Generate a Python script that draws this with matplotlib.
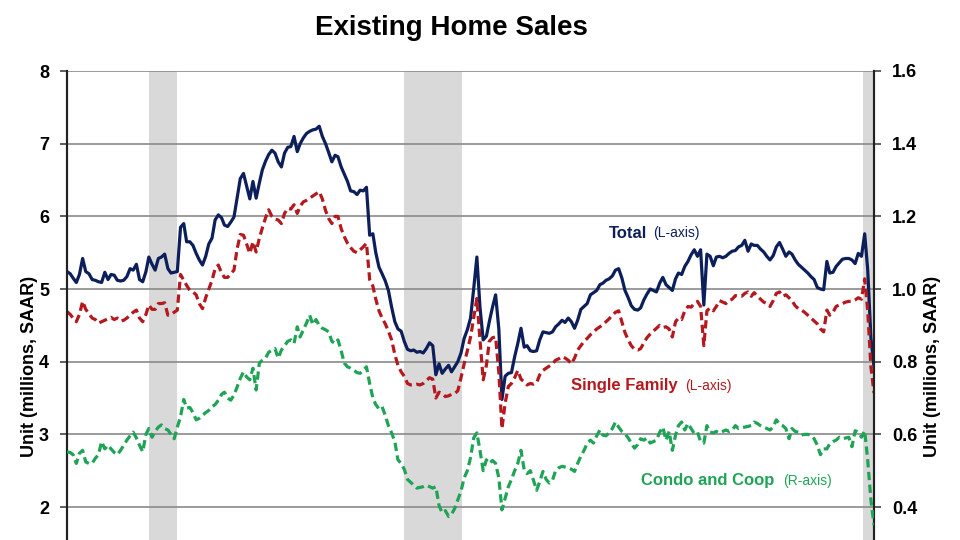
import numpy as np
import pandas as pd
import matplotlib
matplotlib.use('Agg')
import matplotlib.pyplot as plt

plt.rcParams['font.family'] = ['Liberation Sans', 'DejaVu Sans']

# monthly, Jan 1999 - May 2020, millions SAAR
months = pd.date_range('1999-01-01', '2020-05-01', freq='MS')

total = [
    5.24, 5.21, 5.15, 5.09, 5.20, 5.42, 5.24, 5.21, 5.13, 5.12, 5.10, 5.09,
    5.23, 5.13, 5.20, 5.19, 5.12, 5.11, 5.12, 5.17, 5.28, 5.26, 5.34, 5.13,
    5.10, 5.24, 5.44, 5.34, 5.26, 5.42, 5.44, 5.48, 5.28, 5.22, 5.23, 5.24,
    5.85, 5.90, 5.65, 5.65, 5.60, 5.49, 5.40, 5.33, 5.45, 5.62, 5.70, 5.95,
    6.02, 5.98, 5.88, 5.86, 5.92, 5.99, 6.25, 6.52, 6.59, 6.42, 6.24, 6.48,
    6.25, 6.46, 6.64, 6.76, 6.85, 6.91, 6.87, 6.75, 6.68, 6.87, 6.95, 6.96,
    7.10, 6.89, 7.00, 7.08, 7.14, 7.17, 7.19, 7.20, 7.24, 7.10, 7.00, 6.88,
    6.75, 6.84, 6.82, 6.68, 6.58, 6.48, 6.35, 6.34, 6.30, 6.36, 6.35, 6.40,
    5.74, 5.76, 5.50, 5.30, 5.21, 5.11, 4.98, 4.75, 4.55, 4.45, 4.42, 4.28,
    4.17, 4.15, 4.16, 4.13, 4.14, 4.12, 4.18, 4.26, 4.22, 3.82, 3.97, 3.84,
    3.90, 3.95, 3.86, 3.93, 4.00, 4.12, 4.32, 4.44, 4.60, 5.00, 5.44, 4.75,
    4.30, 4.35, 4.55, 4.75, 4.92, 4.45, 3.48, 3.80, 3.84, 3.85, 4.07, 4.25,
    4.46, 4.20, 4.22, 4.15, 4.14, 4.15, 4.30, 4.41, 4.40, 4.39, 4.41, 4.48,
    4.52, 4.57, 4.54, 4.60, 4.55, 4.46, 4.57, 4.72, 4.76, 4.80, 4.92, 4.95,
    4.98, 5.06, 5.08, 5.12, 5.14, 5.18, 5.26, 5.28, 5.15, 4.98, 4.88, 4.77,
    4.72, 4.71, 4.74, 4.85, 4.93, 5.00, 4.98, 4.96, 5.08, 5.16, 5.06, 5.02,
    4.98, 5.14, 5.22, 5.20, 5.31, 5.38, 5.47, 5.54, 5.45, 5.54, 4.78, 5.48,
    5.45, 5.32, 5.44, 5.45, 5.43, 5.45, 5.49, 5.52, 5.53, 5.58, 5.60, 5.67,
    5.52, 5.62, 5.60, 5.60, 5.55, 5.51, 5.45, 5.40, 5.46, 5.58, 5.64, 5.55,
    5.45, 5.51, 5.48, 5.40, 5.34, 5.30, 5.26, 5.22, 5.17, 5.13, 5.02, 5.00,
    4.99, 5.38, 5.22, 5.23, 5.31, 5.36, 5.41, 5.42, 5.42, 5.40, 5.35, 5.49,
    5.45, 5.76, 5.27, 4.33, 3.93,
]

single_family = [
    4.69, 4.65, 4.60, 4.55, 4.65, 4.83, 4.72, 4.66, 4.60, 4.58, 4.53, 4.55,
    4.57, 4.59, 4.61, 4.58, 4.60, 4.56, 4.57, 4.60, 4.64, 4.68, 4.71, 4.60,
    4.55, 4.65, 4.78, 4.72, 4.72, 4.80, 4.80, 4.81, 4.64, 4.65, 4.68, 4.71,
    5.20, 5.12, 5.05, 4.98, 4.96, 4.92, 4.80, 4.73, 4.88, 5.00, 5.12, 5.28,
    5.33, 5.22, 5.16, 5.16, 5.21, 5.26, 5.55, 5.75, 5.74, 5.62, 5.49, 5.65,
    5.51, 5.70, 5.84, 5.98, 6.09, 6.00, 5.96, 5.95, 5.90, 6.04, 6.11, 6.10,
    6.16, 6.04, 6.14, 6.20, 6.22, 6.25, 6.28, 6.31, 6.34, 6.24, 6.08, 5.97,
    5.90, 6.00, 6.00, 5.83, 5.72, 5.63, 5.57, 5.52, 5.50, 5.54, 5.58, 5.63,
    5.13, 5.04, 4.86, 4.70, 4.60, 4.52, 4.42, 4.30, 4.10, 3.95, 3.86, 3.80,
    3.70, 3.68, 3.68, 3.69, 3.68, 3.70, 3.74, 3.78, 3.76, 3.50, 3.58, 3.56,
    3.52, 3.53, 3.55, 3.56, 3.60, 3.78, 3.97, 4.15, 4.34, 4.60, 4.87, 4.30,
    3.75, 3.95, 4.28, 4.33, 4.34, 3.85, 3.08, 3.43, 3.66, 3.70, 3.78, 3.88,
    3.76, 3.72, 3.68, 3.70, 3.69, 3.71, 3.82, 3.88, 3.91, 3.94, 3.97, 4.02,
    4.04, 4.07, 4.05, 4.02, 3.97, 4.05, 4.16, 4.22, 4.28, 4.32, 4.37, 4.41,
    4.45, 4.48, 4.51, 4.55, 4.59, 4.64, 4.68, 4.70, 4.55, 4.40, 4.30, 4.22,
    4.17, 4.16, 4.18, 4.26, 4.33, 4.38, 4.42, 4.46, 4.50, 4.47, 4.48, 4.45,
    4.34, 4.55, 4.60, 4.58, 4.70, 4.76, 4.75, 4.80, 4.83, 4.76, 4.22, 4.70,
    4.74, 4.70, 4.76, 4.84, 4.82, 4.80, 4.84, 4.86, 4.91, 4.90, 4.90, 4.94,
    4.96, 4.90, 4.95, 4.90, 4.86, 4.82, 4.80, 4.76, 4.84, 4.94, 4.96, 4.90,
    4.92, 4.88, 4.84, 4.77, 4.73, 4.71, 4.68, 4.64, 4.60, 4.56, 4.52, 4.45,
    4.41, 4.71, 4.64, 4.68, 4.76, 4.78, 4.80, 4.82, 4.83, 4.83, 4.85, 4.88,
    4.86, 5.14, 4.71, 3.93, 3.57,
]

condo = [
    .552, .550, .544, .520, .548, .556, .524, .520, .520, .534, .544, .580,
    .560, .570, .560, .550, .544, .556, .570, .584, .596, .606, .590, .570,
    .552, .600, .616, .592, .608, .620, .626, .616, .612, .600, .588, .620,
    .648, .696, .672, .674, .660, .640, .644, .652, .660, .666, .676, .682,
    .694, .710, .716, .700, .694, .708, .730, .754, .772, .758, .750, .782,
    .722, .796, .804, .810, .826, .832, .836, .810, .832, .844, .856, .860,
    .850, .896, .868, .888, .906, .928, .902, .916, .900, .892, .888, .882,
    .856, .850, .860, .830, .796, .786, .782, .776, .770, .768, .776, .786,
    .740, .700, .682, .670, .676, .652, .624, .604, .580, .530, .520, .504,
    .476, .468, .460, .452, .454, .456, .460, .456, .452, .456, .404, .384,
    .390, .374, .380, .396, .420, .444, .480, .500, .536, .590, .604, .556,
    .500, .530, .520, .528, .520, .480, .392, .424, .456, .476, .500, .520,
    .556, .502, .492, .500, .474, .446, .470, .498, .476, .466, .474, .500,
    .508, .512, .510, .508, .504, .498, .520, .540, .556, .576, .584, .576,
    .596, .612, .598, .596, .604, .616, .634, .620, .608, .602, .590, .576,
    .562, .572, .588, .584, .590, .576, .580, .584, .606, .620, .584, .608,
    .556, .598, .624, .634, .612, .630, .616, .602, .606, .580, .576, .624,
    .606, .604, .608, .604, .608, .612, .608, .612, .624, .616, .618, .620,
    .622, .624, .634, .630, .624, .620, .616, .612, .620, .640, .628, .624,
    .616, .588, .616, .608, .606, .598, .600, .600, .598, .588, .570, .544,
    .560, .560, .574, .580, .584, .592, .588, .590, .592, .566, .610, .606,
    .592, .610, .530, .420, .350,
]

recessions = [('2001-03-01', '2001-12-01'),
              ('2007-12-01', '2009-06-10'),
              ('2020-01-16', '2020-06-01')]

navy = '#0c1f5b'
red = '#b3191e'
green = '#1fa456'

fig = plt.figure(figsize=(9.6, 5.4), dpi=100)
ax = fig.add_axes([67/960, 0, 807/960, 469/540])
ax2 = ax.twinx()

for start, end in recessions:
    ax.axvspan(pd.Timestamp(start), pd.Timestamp(end), color='#d9d9d9', lw=0, zorder=0.1)

ax.plot(months, total, color=navy, lw=2.3, zorder=3)
ax.plot(months, single_family, color=red, lw=2.3, dashes=(2.6, 1.4), zorder=3)
ax2.plot(months, condo, color=green, lw=2.3, dashes=(2.6, 1.4), zorder=3)

ax.set_xlim(months[0], months[-1])
ax.set_ylim(8 - 469/72.67, 8)
ax2.set_ylim((8 - 469/72.67) * 0.2, 1.6)
ax.set_yticks(range(2, 9))
ax2.set_yticks([0.4, 0.6, 0.8, 1.0, 1.2, 1.4, 1.6])
ax2.set_yticklabels(['0.4', '0.6', '0.8', '1.0', '1.2', '1.4', '1.6'])
ax.set_xticks([])

ax.set_axisbelow(True)
ax.grid(axis='y', color='#8a8a8a', lw=1.2)
for a in (ax, ax2):
    a.spines['top'].set_visible(False)
    a.spines['bottom'].set_visible(False)
    a.spines['left'].set_color('#222222')
    a.spines['right'].set_color('#222222')
    a.spines['left'].set_linewidth(1.5)
    a.spines['right'].set_linewidth(1.5)
    a.tick_params(axis='y', length=5, width=1.2, pad=8, labelsize=13, color='#444444')
    for lab in a.get_yticklabels():
        lab.set_fontweight('bold')

ax.set_ylabel('Unit (millions, SAAR)', fontsize=13, fontweight='bold')
ax2.set_ylabel('Unit (millions, SAAR)', fontsize=13, fontweight='bold')
ax.yaxis.set_label_coords(-0.036, 0.371)
ax2.yaxis.set_label_coords(1.062, 0.371)

fig.text(451/960, 1 - 28/540, 'Existing Home Sales', ha='center', va='center',
         fontsize=20, fontweight='bold')

# series labels
ax.text(months[172], 5.77, 'Total', color=navy, fontsize=12, fontweight='bold', va='center')
ax.text(months[186], 5.77, '(L-axis)', color=navy, fontsize=10, va='center')
ax.text(months[160], 3.67, 'Single Family', color=red, fontsize=12, fontweight='bold', va='center')
ax.text(months[196], 3.67, '(L-axis)', color=red, fontsize=10, va='center')
ax.text(months[182], 2.36, 'Condo and Coop', color=green, fontsize=12, fontweight='bold', va='center')
ax.text(months[227], 2.36, '(R-axis)', color=green, fontsize=10, va='center')

fig.savefig('out.png', dpi=100)
